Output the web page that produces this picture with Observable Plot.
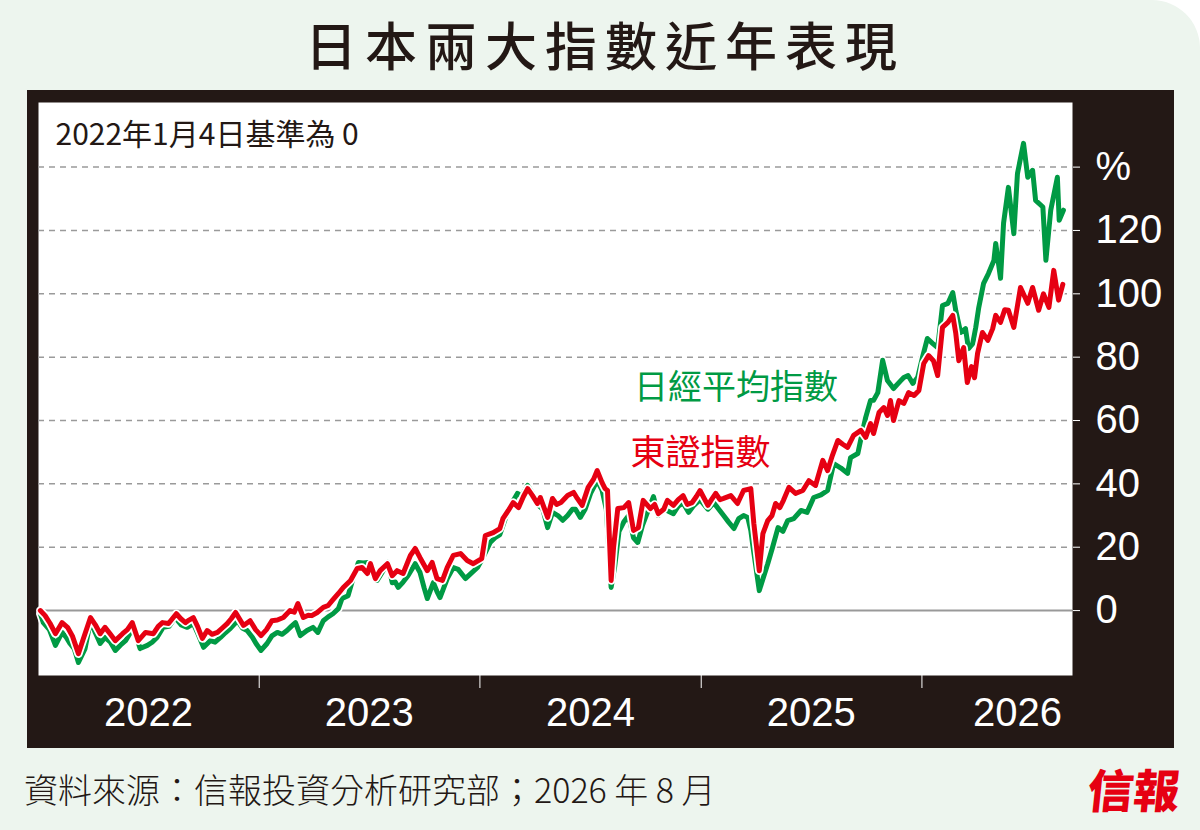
<!DOCTYPE html>
<html><head><meta charset="utf-8">
<script src="https://cdn.jsdelivr.net/npm/d3@7"></script>
<script src="https://cdn.jsdelivr.net/npm/@observablehq/plot@0.6"></script>
<style>
html,body{margin:0;padding:0;background:#fff;}
#page{position:relative;width:1200px;height:830px;background:#edf5ee;border-top-right-radius:48px;overflow:hidden;font-family:"Noto Sans CJK TC","Noto Sans",sans-serif;}
#title{position:absolute;left:0;width:1200px;top:6px;text-align:center;font-size:52px;letter-spacing:8px;padding-left:10px;box-sizing:border-box;color:#231815;font-weight:500;line-height:76px;}
#frame{position:absolute;left:27px;top:90px;width:1147px;height:658px;background:#231815;}
#footer{position:absolute;left:24px;top:764px;font-size:34px;font-weight:300;color:#231815;line-height:50px;}
#logo{position:absolute;left:1088px;top:758px;color:#e60012;font-size:46px;font-weight:900;line-height:60px;transform:skewX(-6deg);}
</style>
</head><body>
<div id="page">
  <div id="title">日本兩大指數近年表現</div>
  <div id="frame"></div>
  <div id="footer">資料來源：信報投資分析研究部；2026 年 8 月</div>
  <div id="logo">信報</div>
</div>
<script>
const subtitleText = "2022年1月4日基準為 0";
const nikkeiLabel = "日經平均指數";
const topixLabel = "東證指數";

const topix = [
["2022-01-04",0],["2022-01-12",-1.6],["2022-01-20",-4],["2022-01-29",-7.3],["2022-02-09",-3.8],["2022-02-18",-5.3],["2022-02-26",-8],["2022-03-08",-13.6],["2022-03-16",-9],["2022-03-28",-2.2],["2022-04-05",-4.5],["2022-04-13",-7.3],["2022-04-21",-5.3],["2022-04-30",-7.5],["2022-05-08",-9.5],["2022-05-20",-7.3],["2022-05-28",-6],["2022-06-05",-3.8],["2022-06-15",-9.5],["2022-06-27",-6.9],["2022-07-10",-7.3],["2022-07-18",-5],["2022-07-25",-3.8],["2022-08-04",-4.1],["2022-08-17",-1],["2022-08-24",-2.5],["2022-09-01",-3.8],["2022-09-07",-3],["2022-09-14",-2.2],["2022-09-21",-5],["2022-09-29",-8.8],["2022-10-07",-6.3],["2022-10-15",-7.5],["2022-10-24",-6.9],["2022-11-01",-5.5],["2022-11-09",-4.1],["2022-11-16",-2.5],["2022-11-23",-0.6],["2022-11-29",-2.5],["2022-12-06",-4.7],["2022-12-17",-3.2],["2022-12-26",-6],
["2023-01-04",-7.9],["2023-01-13",-6],["2023-01-22",-3.2],["2023-01-31",-3],["2023-02-10",-2.2],["2023-02-21",0],["2023-02-28",-0.5],["2023-03-06",2.2],["2023-03-15",-2.2],["2023-03-23",-1.5],["2023-03-29",-1.6],["2023-04-07",-0.6],["2023-04-17",1],["2023-04-25",1.6],["2023-05-02",3.2],["2023-05-12",5.4],["2023-05-20",7.3],["2023-06-01",9.5],["2023-06-12",13.3],["2023-06-20",13.6],["2023-06-29",11.7],["2023-07-04",14.8],["2023-07-12",10.1],["2023-07-20",12.6],["2023-08-01",14.8],["2023-08-09",11],["2023-08-17",12.6],["2023-08-27",11.7],["2023-09-08",17.4],["2023-09-16",19.6],["2023-09-24",16.7],["2023-10-06",12.6],["2023-10-14",15.2],["2023-10-22",10.1],["2023-10-31",9.5],["2023-11-08",13.6],["2023-11-18",17.4],["2023-11-30",18],["2023-12-11",15.8],["2023-12-21",14.8],
["2024-01-04",16.4],["2024-01-10",23.7],["2024-01-23",24.6],["2024-02-03",25.9],["2024-02-08",29],["2024-02-17",31.6],["2024-02-25",34.1],["2024-03-05",32.5],["2024-03-13",36],["2024-03-20",38.5],["2024-03-28",36.3],["2024-04-05",33.8],["2024-04-10",35.7],["2024-04-17",32],["2024-04-22",29.4],["2024-04-30",35.4],["2024-05-07",33.5],["2024-05-14",34.1],["2024-05-25",36.3],["2024-06-04",37.3],["2024-06-10",35.4],["2024-06-18",33.2],["2024-06-28",38.9],["2024-07-07",41.5],["2024-07-13",44.2],["2024-07-21",40.4],["2024-07-26",38.5],["2024-07-30",37.9],["2024-08-05",9.5],["2024-08-09",19.9],["2024-08-16",32.2],["2024-08-26",32.5],["2024-09-03",34.1],["2024-09-11",25.3],["2024-09-19",26.2],["2024-09-27",34.8],["2024-10-09",32.2],["2024-10-16",33.5],["2024-10-22",30.6],["2024-10-31",32],["2024-11-06",34.8],["2024-11-16",33.2],["2024-11-24",35],["2024-12-02",36.3],["2024-12-09",33.5],["2024-12-17",34.1],["2024-12-24",36],["2024-12-30",37.9],
["2025-01-12",33.2],["2025-01-18",35],["2025-01-25",37],["2025-02-01",35],["2025-02-07",35.4],["2025-02-19",36.3],["2025-03-02",33.8],["2025-03-12",37.9],["2025-03-24",38.5],["2025-03-29",27.5],["2025-04-07",12.6],["2025-04-13",24.3],["2025-04-21",28.4],["2025-04-28",30],["2025-05-04",33.8],["2025-05-11",32.5],["2025-05-17",34.8],["2025-05-26",38.9],["2025-06-06",37],["2025-06-18",37.9],["2025-06-28",41],["2025-07-09",39.5],["2025-07-21",47.4],["2025-07-29",44.2],["2025-08-06",49],["2025-08-15",53.7],["2025-08-23",52.5],["2025-08-31",51.5],["2025-09-10",55.3],["2025-09-22",56.9],["2025-09-30",54.7],["2025-10-08",59],["2025-10-13",55.9],["2025-10-22",62.5],["2025-10-30",64.1],["2025-11-05",61.6],["2025-11-10",66.3],["2025-11-15",60],["2025-11-24",66.3],["2025-12-02",65.4],["2025-12-10",68.8],["2025-12-19",67.9],["2025-12-27",69.5],
["2026-01-04",78],["2026-01-12",80.5],["2026-01-20",78.9],["2026-01-27",74.2],["2026-02-04",89.4],["2026-02-13",91],["2026-02-21",93.2],["2026-02-26",87.5],["2026-03-03",78.9],["2026-03-11",83],["2026-03-17",72],["2026-03-24",77],["2026-03-29",73.5],["2026-04-03",81.2],["2026-04-11",87.8],["2026-04-20",85.3],["2026-04-28",89],["2026-05-03",93.2],["2026-05-11",91],["2026-05-18",95],["2026-05-24",94.8],["2026-06-02",89.4],["2026-06-13",102],["2026-06-25",97],["2026-07-03",102],["2026-07-13",94.8],["2026-07-21",100],["2026-07-30",95.7],["2026-08-07",107.4],["2026-08-15",98],["2026-08-22",103]
];

const nikkei = [
["2022-01-04",-1],["2022-01-09",-3.8],["2022-01-19",-6],["2022-01-29",-11],["2022-02-09",-6.9],["2022-02-16",-8.5],["2022-02-22",-10.4],["2022-03-01",-12],["2022-03-08",-16.4],["2022-03-19",-12],["2022-03-28",-3.2],["2022-04-05",-7],["2022-04-13",-10.4],["2022-04-21",-8.5],["2022-04-30",-10],["2022-05-08",-12.6],["2022-05-16",-11],["2022-05-25",-9.5],["2022-06-07",-5.3],["2022-06-18",-12],["2022-06-30",-11],["2022-07-08",-10],["2022-07-16",-8.5],["2022-07-26",-5.3],["2022-08-05",-5],["2022-08-15",-2.2],["2022-08-25",-4.5],["2022-09-04",-5.3],["2022-09-14",-4.1],["2022-09-22",-7.5],["2022-10-01",-11.6],["2022-10-12",-9.5],["2022-10-20",-10],["2022-10-29",-8.5],["2022-11-06",-7],["2022-11-14",-5.7],["2022-11-26",-3.2],["2022-12-04",-5.5],["2022-12-12",-6.3],["2022-12-21",-8.5],["2022-12-27",-10.5],
["2023-01-04",-12.6],["2023-01-14",-10.4],["2023-01-22",-8],["2023-01-31",-6.9],["2023-02-08",-7.5],["2023-02-16",-6.3],["2023-02-23",-5],["2023-03-02",-3.8],["2023-03-10",-7.9],["2023-03-21",-6.3],["2023-03-31",-5.3],["2023-04-08",-6.9],["2023-04-17",-3.2],["2023-04-25",-2],["2023-05-03",-1],["2023-05-12",0.6],["2023-05-18",3.8],["2023-05-28",4.7],["2023-06-05",10],["2023-06-14",15.2],["2023-06-22",15],["2023-06-30",15.2],["2023-07-09",13],["2023-07-15",9.5],["2023-07-20",11],["2023-07-28",13.5],["2023-08-02",15.2],["2023-08-09",8.8],["2023-08-14",9],["2023-08-19",7.3],["2023-08-27",9],["2023-09-04",11],["2023-09-16",14.8],["2023-09-24",12],["2023-10-01",7],["2023-10-06",3.8],["2023-10-16",8.8],["2023-10-22",6],["2023-10-27",4.1],["2023-11-08",10.1],["2023-11-18",13.6],["2023-11-26",13],["2023-12-08",10.1],["2023-12-16",11.5],["2023-12-28",13.6],
["2024-01-06",16.7],["2024-01-18",21.5],["2024-01-26",23],["2024-02-03",24],["2024-02-12",29],["2024-02-20",33],["2024-03-03",37],["2024-03-10",36],["2024-03-20",39.5],["2024-03-28",37],["2024-04-05",33.5],["2024-04-14",32],["2024-04-22",26.2],["2024-04-30",31],["2024-05-09",30],["2024-05-17",28.5],["2024-05-25",30],["2024-06-02",32],["2024-06-07",32],["2024-06-15",29.4],["2024-06-23",32],["2024-07-02",37],["2024-07-13",41],["2024-07-21",38],["2024-07-28",32],["2024-08-05",7.3],["2024-08-11",14],["2024-08-18",25],["2024-08-26",28],["2024-09-03",30],["2024-09-11",23],["2024-09-18",21.5],["2024-09-26",27],["2024-10-04",31],["2024-10-14",36],["2024-10-22",30],["2024-10-31",32],["2024-11-06",31.5],["2024-11-16",30.6],["2024-11-24",33],["2024-12-02",34],["2024-12-11",31],["2024-12-19",33],["2024-12-30",35],
["2025-01-12",32],["2025-01-22",34],["2025-01-30",32],["2025-02-07",30],["2025-02-15",28],["2025-02-24",25.9],["2025-03-04",29],["2025-03-12",30],["2025-03-19",29.4],["2025-03-24",25.3],["2025-03-27",21],["2025-04-07",6.3],["2025-04-13",10],["2025-04-21",14.8],["2025-04-29",20],["2025-05-08",26.2],["2025-05-16",25],["2025-05-24",28.4],["2025-06-03",29],["2025-06-15",31.6],["2025-06-25",31],["2025-07-06",35.7],["2025-07-18",36.5],["2025-07-29",37.9],["2025-08-08",46.4],["2025-08-20",45],["2025-08-31",43.3],["2025-09-05",48.3],["2025-09-17",49.6],["2025-09-23",55],["2025-09-30",61],["2025-10-08",66.3],["2025-10-13",66.4],["2025-10-20",68.8],["2025-10-28",79],["2025-11-05",72.6],["2025-11-15",70.1],["2025-11-27",72.6],["2025-12-02",73.6],["2025-12-09",74.2],["2025-12-17",71.7],["2025-12-25",73.6],
["2026-01-02",80],["2026-01-10",85.9],["2026-01-19",84.3],["2026-01-27",83],["2026-02-04",96.3],["2026-02-13",97],["2026-02-21",100.4],["2026-02-26",94.7],["2026-03-06",87.8],["2026-03-14",89],["2026-03-19",82.7],["2026-03-26",84.3],["2026-03-31",89.4],["2026-04-05",95.7],["2026-04-13",103.3],["2026-04-21",106.4],["2026-04-30",110.5],["2026-05-03",115.9],["2026-05-11",104.9],["2026-05-16",122.3],["2026-05-24",133.6],["2026-06-02",119],["2026-06-08",138],["2026-06-18",147.5],["2026-06-25",136.8],["2026-07-03",139],["2026-07-08",129.5],["2026-07-20",127.4],["2026-07-25",110.6],["2026-08-02",126.4],["2026-08-10",134],["2026-08-13",136.8],["2026-08-16",123.2],["2026-08-23",126.4]
];

const yTicks = [0, 20, 40, 60, 80, 100, 120, 140];
const gridTicks = [20, 40, 60, 80, 100, 120, 140];
const yearBreaks = ["2023-01-01", "2024-01-01", "2025-01-01", "2026-01-01"];
const yearLabels = ["2022", "2023", "2024", "2025", "2026"];
const yearLabelDates = ["2022-07-02", "2023-07-02", "2024-07-02", "2025-07-02", "2026-06-08"];

const toRows = arr => arr.map(([d, v]) => ({date: new Date(d), value: v}));
const topixRows = toRows(topix);
const nikkeiRows = toRows(nikkei);
const yearLabelRows = yearLabels.map((t, i) => ({date: new Date(yearLabelDates[i]), text: t}));

const GREEN = "#009a44", RED = "#e60012";
const cjk = "'Noto Sans CJK TC', 'Noto Sans', sans-serif";

const chart = Plot.plot({
  width: 1147, height: 658,
  marginLeft: 11, marginRight: 102, marginTop: 12, marginBottom: 73,
  x: {type: "utc", domain: [new Date("2022-01-01"), new Date("2026-09-07")], label: null},
  y: {domain: [-20.5, 160.4], label: null},
  style: {background: "transparent", color: "white", fontFamily: "'Liberation Sans', Arial, sans-serif", overflow: "visible"},
  marks: [
    Plot.frame({fill: "white", stroke: null}),
    Plot.ruleY(gridTicks, {stroke: "#9a9a9a", strokeWidth: 1.5, strokeDasharray: "6,5"}),
    Plot.ruleY([0], {stroke: "#999", strokeWidth: 2}),
    Plot.line(nikkeiRows, {x: "date", y: "value", stroke: "white", strokeWidth: 8.5, strokeLinejoin: "round"}),
    Plot.line(nikkeiRows, {x: "date", y: "value", stroke: GREEN, strokeWidth: 5, strokeLinejoin: "round"}),
    Plot.line(topixRows, {x: "date", y: "value", stroke: "white", strokeWidth: 8.5, strokeLinejoin: "round"}),
    Plot.line(topixRows, {x: "date", y: "value", stroke: RED, strokeWidth: 5, strokeLinejoin: "round"}),
    Plot.axisY(yTicks, {anchor: "right", tickSize: 7, tickPadding: 16, fontSize: 40, tickFormat: d => d === 140 ? "%" : String(d)}),
    Plot.axisX(yearBreaks.map(d => new Date(d)), {anchor: "bottom", tickSize: 13, tickFormat: () => ""}),
    Plot.text(yearLabelRows, {x: "date", text: "text", frameAnchor: "bottom", dy: 38, fill: "white", fontSize: 40, lineAnchor: "middle"}),
    Plot.text([subtitleText], {frameAnchor: "top-left", dx: 17, dy: 33, textAnchor: "start", lineAnchor: "middle", fill: "#231815", fontSize: 30, fontFamily: cjk}),
    Plot.text([nikkeiLabel], {x: () => new Date("2024-09-12"), y: () => 70.1, textAnchor: "start", lineAnchor: "middle", fill: GREEN, fontSize: 34, fontFamily: cjk}),
    Plot.text([topixLabel], {x: () => new Date("2024-09-06"), y: () => 49.6, textAnchor: "start", lineAnchor: "middle", fill: RED, fontSize: 35, fontFamily: cjk})
  ]
});
document.getElementById("frame").appendChild(chart);
</script>
</body></html>
